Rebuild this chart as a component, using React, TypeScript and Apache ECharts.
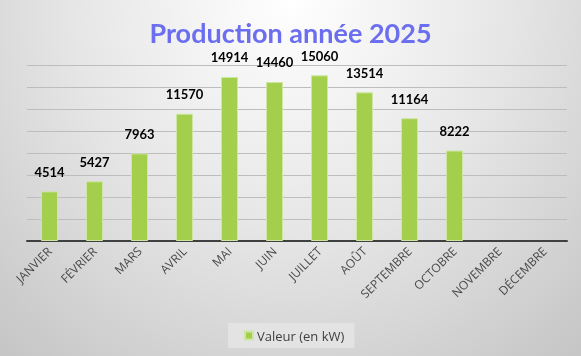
import React, { useEffect, useRef } from "react";
import * as echarts from "echarts";

const months = [
  "JANVIER", "FÉVRIER", "MARS", "AVRIL", "MAI", "JUIN",
  "JUILLET", "AOÛT", "SEPTEMBRE", "OCTOBRE", "NOVEMBRE", "DÉCEMBRE",
];
const values: (number | null)[] = [
  4514, 5427, 7963, 11570, 14914, 14460, 15060, 13514, 11164, 8222, null, null,
];
const seriesName = "Valeur (en kW)";
const titleText = "Production année 2025";

export default function App() {
  const ref = useRef<HTMLDivElement>(null);
  useEffect(() => {
    if (!ref.current) return;
    const chart = echarts.init(ref.current, undefined, { renderer: "svg" });
    chart.setOption({
      animation: false,
      backgroundColor: "transparent",
      textStyle: { fontFamily: "'Open Sans', sans-serif" },
      title: {
        text: titleText,
        left: "center",
        top: 14,
        textStyle: {
          fontFamily: "Lato, sans-serif",
          fontSize: 27,
          fontWeight: "bold",
          color: "#6B6EEF",
        },
      },
      legend: {
        data: [seriesName],
        top: 323,
        left: 228,
        itemWidth: 8,
        itemHeight: 8,
        itemGap: 4,
        padding: [6, 10, 6, 16],
        backgroundColor: "#E3E3E3",
        textStyle: { fontFamily: "'Open Sans', sans-serif", fontSize: 13, color: "#404040", padding: [0, 0, 0, -1] },
        icon: "rect",
      },
      grid: { left: 27, right: 14, top: 65, bottom: 115, containLabel: false },
      xAxis: {
        type: "category",
        data: months,
        axisLine: { show: true, lineStyle: { color: "#404040", width: 2 } },
        axisTick: { show: false },
        axisLabel: {
          rotate: 45,
          interval: 0,
          margin: 8,
          fontFamily: "'Open Sans', sans-serif",
          fontSize: 12,
          color: "#4A4A4A",
        },
      },
      yAxis: {
        type: "value",
        min: 0,
        max: 16000,
        interval: 2000,
        axisLabel: { show: false },
        axisLine: { show: false },
        axisTick: { show: false },
        splitLine: { lineStyle: { color: "#BDBDBD", width: 1 } },
      },
      series: [
        {
          name: seriesName,
          type: "bar",
          data: values,
          barWidth: 17,
          itemStyle: {
            color: "#A3CF4C",
            borderColor: "#CDE6A4",
            borderWidth: 1,
          },
          label: {
            show: true,
            position: "top",
            distance: 13,
            fontFamily: "Lato, sans-serif",
            fontSize: 13,
            fontWeight: "bold",
            color: "#000000",
          },
        },
      ],
    });
    return () => chart.dispose();
  }, []);
  return (
    <div
      ref={ref}
      style={{
        position: "fixed",
        left: 0,
        top: 0,
        width: 581,
        height: 356,
        background:
          "radial-gradient(ellipse 75% 130% at 50% 0%, #FFFFFF 0%, #E6E6E6 50%, #C6C6C6 100%)",
      }}
    />
  );
}
